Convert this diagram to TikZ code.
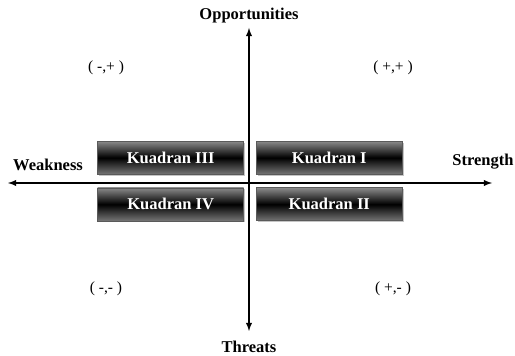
\documentclass[tikz,border=0pt]{standalone}
\usepackage{fontspec}
\setmainfont{Liberation Serif}
\usepackage{xcolor}
\usetikzlibrary{arrows, shadows, calc, matrix, positioning}
\definecolor{boxgray}{HTML}{8A8A8A}
\definecolor{boxedge}{HTML}{5A5A5A}
\tikzset{
  %quadrant box style
  quadrant/.style={
    draw=boxedge
    , top color=boxgray
    , bottom color=boxgray!85!black
    , middle color=black
    , text=white
    , line width=0.6pt
    , minimum width=146pt
    , minimum height=33pt
    , font=\fontsize{16.5}{18}\selectfont\bfseries
    , drop shadow={shadow xshift=1.5pt, shadow yshift=-1.5pt, fill=black!45}
  },
  %axis label style
  axislabel/.style={
    font=\fontsize{16.5}{18}\selectfont\bfseries
  },
  %sign label style
  signlabel/.style={
    font=\fontsize{15.5}{17}\selectfont
  },
  axis/.style={
    line width=1.8pt
    , latex-latex
  },
}
\begin{document}
\begin{tikzpicture}[x=1pt, y=1pt]
  \useasboundingbox (0,0) rectangle (515,356);
  % axes
  \coordinate (north) at (249,328);
  \coordinate (south) at (249,25);
  \coordinate (west) at (8,173);
  \coordinate (east) at (492,173);
  \draw[axis] (south) -- (north);
  \draw[axis] (west) -- (east);
  % quadrant boxes
  \matrix (kd) at (250,175) [matrix of nodes
                , column sep=12pt
                , row sep=13pt
                , nodes={quadrant}
               ]
    {
      Kuadran III
      & Kuadran I
      \\
      Kuadran IV
      & Kuadran II
      \\
    }; % matrix
  % axis labels
  \node[axislabel] (opp) at (249,340) {Opportunities};
  \node[axislabel] (thr) at (249,9) {Threats};
  \node[axislabel] (weak) at (48,191) {Weakness};
  \node[axislabel] (str) at (483,194) {Strength};
  % signs
  \node[signlabel] (mp) at (106,288) {( -,+ )};
  \node[signlabel] (pp) at (393,288) {( +,+ )};
  \node[signlabel] (mm) at (106,67) {( -,- )};
  \node[signlabel] (pm) at (393,67) {( +,- )};
\end{tikzpicture}
\end{document}
